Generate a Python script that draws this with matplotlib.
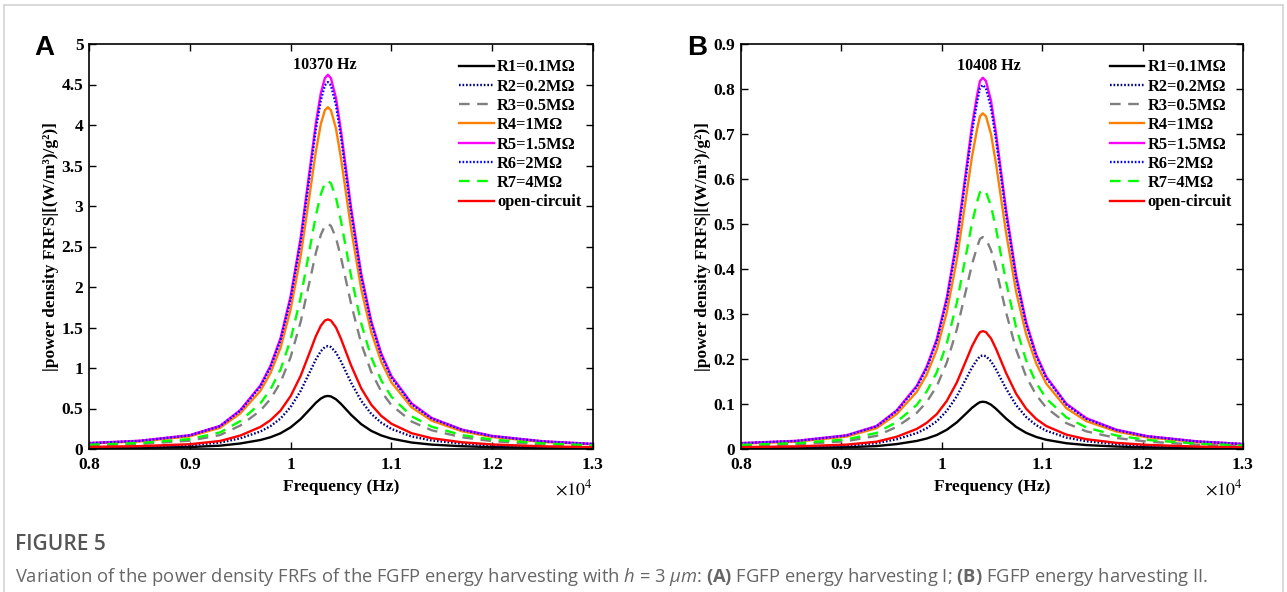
import matplotlib
matplotlib.use("Agg")
import matplotlib.pyplot as plt
from matplotlib.ticker import FuncFormatter, MultipleLocator
from matplotlib.lines import Line2D

# frequency samples (Hz)
freq_a = [8000, 8500, 9000, 9300, 9500, 9700, 9800, 9900, 10000, 10100, 10200, 10250, 10300, 10340, 10370,
          10400, 10450, 10500, 10600, 10700, 10800, 10900, 11000, 11200, 11400, 11700, 12000, 12500, 13000]
freq_b = [8000, 8550, 9050, 9350, 9550, 9750, 9850, 9950, 10050, 10150, 10250, 10300, 10350, 10380, 10408,
          10440, 10490, 10540, 10640, 10740, 10840, 10940, 11040, 11240, 11440, 11740, 12040, 12540, 13000]

# panel A, power density [(W/m^3)/g^2]
a_r1 = [0.010, 0.014, 0.024, 0.041, 0.068, 0.111, 0.145, 0.194, 0.267, 0.370, 0.502, 0.570, 0.623, 0.649, 0.655,
        0.649, 0.614, 0.557, 0.422, 0.307, 0.224, 0.167, 0.128, 0.080, 0.054, 0.034, 0.023, 0.014, 0.009]
a_r2 = [0.020, 0.028, 0.047, 0.079, 0.132, 0.216, 0.282, 0.376, 0.518, 0.718, 0.974, 1.105, 1.208, 1.259, 1.270,
        1.259, 1.191, 1.080, 0.819, 0.596, 0.434, 0.324, 0.248, 0.155, 0.105, 0.066, 0.044, 0.026, 0.017]
a_r3 = [0.044, 0.061, 0.103, 0.172, 0.289, 0.473, 0.617, 0.823, 1.134, 1.571, 2.132, 2.419, 2.644, 2.755, 2.780,
        2.755, 2.608, 2.363, 1.793, 1.304, 0.951, 0.709, 0.542, 0.339, 0.231, 0.145, 0.097, 0.058, 0.038]
a_r4 = [0.068, 0.093, 0.156, 0.262, 0.439, 0.717, 0.937, 1.249, 1.722, 2.384, 3.237, 3.671, 4.013, 4.182, 4.220,
        4.182, 3.958, 3.587, 2.722, 1.979, 1.443, 1.076, 0.823, 0.515, 0.350, 0.219, 0.148, 0.087, 0.058]
a_r5 = [0.074, 0.102, 0.171, 0.286, 0.480, 0.785, 1.026, 1.368, 1.885, 2.610, 3.544, 4.019, 4.394, 4.578, 4.620,
        4.578, 4.334, 3.927, 2.980, 2.167, 1.580, 1.178, 0.901, 0.564, 0.383, 0.240, 0.162, 0.096, 0.063]
a_r6 = [0.072, 0.100, 0.168, 0.281, 0.471, 0.770, 1.006, 1.341, 1.848, 2.559, 3.474, 3.941, 4.308, 4.489, 4.530,
        4.489, 4.249, 3.851, 2.922, 2.125, 1.549, 1.155, 0.883, 0.553, 0.376, 0.236, 0.159, 0.094, 0.062]
a_r7 = [0.053, 0.073, 0.122, 0.205, 0.344, 0.563, 0.735, 0.980, 1.350, 1.870, 2.539, 2.880, 3.148, 3.280, 3.310,
        3.280, 3.105, 2.814, 2.135, 1.552, 1.132, 0.844, 0.645, 0.404, 0.275, 0.172, 0.116, 0.069, 0.045]
a_oc = [0.026, 0.035, 0.059, 0.099, 0.166, 0.272, 0.355, 0.474, 0.653, 0.904, 1.227, 1.392, 1.522, 1.586, 1.600,
        1.586, 1.501, 1.360, 1.032, 0.750, 0.547, 0.408, 0.312, 0.195, 0.133, 0.083, 0.056, 0.033, 0.022]

# panel B
b_r1 = [0.0017, 0.0023, 0.0039, 0.0065, 0.0109, 0.0179, 0.0233, 0.0311, 0.0428, 0.0593, 0.0805, 0.0914, 0.0999, 0.1041, 0.105,
        0.1041, 0.0985, 0.0893, 0.0677, 0.0492, 0.0359, 0.0268, 0.0205, 0.0128, 0.0087, 0.0055, 0.0037, 0.0022, 0.0014]
b_r2 = [0.0033, 0.0046, 0.0077, 0.0129, 0.0216, 0.0354, 0.0462, 0.0616, 0.0849, 0.1175, 0.1595, 0.1810, 0.1978, 0.2061, 0.208,
        0.2061, 0.1951, 0.1768, 0.1342, 0.0976, 0.0711, 0.0530, 0.0406, 0.0254, 0.0173, 0.0108, 0.0073, 0.0043, 0.0028]
b_r3 = [0.0075, 0.0104, 0.0174, 0.0292, 0.0490, 0.0801, 0.1046, 0.1394, 0.1922, 0.2661, 0.3613, 0.4098, 0.4479, 0.4668, 0.471,
        0.4668, 0.4418, 0.4004, 0.3038, 0.2209, 0.1611, 0.1201, 0.0918, 0.0575, 0.0391, 0.0245, 0.0165, 0.0097, 0.0065]
b_r4 = [0.0119, 0.0164, 0.0276, 0.0463, 0.0776, 0.1268, 0.1656, 0.2208, 0.3044, 0.4215, 0.5722, 0.6490, 0.7094, 0.7393, 0.746,
        0.7393, 0.6997, 0.6341, 0.4812, 0.3499, 0.2551, 0.1902, 0.1455, 0.0910, 0.0619, 0.0388, 0.0261, 0.0154, 0.0102]
b_r5 = [0.0132, 0.0182, 0.0305, 0.0512, 0.0858, 0.1403, 0.1832, 0.2442, 0.3366, 0.4661, 0.6328, 0.7178, 0.7846, 0.8176, 0.825,
        0.8176, 0.7739, 0.7013, 0.5321, 0.3869, 0.2822, 0.2104, 0.1609, 0.1007, 0.0685, 0.0429, 0.0289, 0.0171, 0.0113]
b_r6 = [0.0129, 0.0178, 0.0299, 0.0502, 0.0841, 0.1375, 0.1796, 0.2395, 0.3301, 0.4571, 0.6205, 0.7038, 0.7694, 0.8017, 0.809,
        0.8017, 0.7588, 0.6877, 0.5218, 0.3794, 0.2767, 0.2063, 0.1578, 0.0987, 0.0671, 0.0421, 0.0283, 0.0167, 0.0111]
b_r7 = [0.0092, 0.0127, 0.0213, 0.0357, 0.0599, 0.0979, 0.1279, 0.1705, 0.2350, 0.3254, 0.4418, 0.5011, 0.5478, 0.5708, 0.576,
        0.5708, 0.5403, 0.4896, 0.3715, 0.2701, 0.1970, 0.1469, 0.1123, 0.0703, 0.0478, 0.0300, 0.0202, 0.0119, 0.0079]
b_oc = [0.0042, 0.0058, 0.0097, 0.0162, 0.0272, 0.0445, 0.0582, 0.0776, 0.1069, 0.1480, 0.2010, 0.2279, 0.2492, 0.2596, 0.262,
        0.2596, 0.2458, 0.2227, 0.1690, 0.1229, 0.0896, 0.0668, 0.0511, 0.0320, 0.0217, 0.0136, 0.0092, 0.0054, 0.0036]

labels = ["R1=0.1M\u03a9", "R2=0.2M\u03a9", "R3=0.5M\u03a9", "R4=1M\u03a9",
          "R5=1.5M\u03a9", "R6=2M\u03a9", "R7=4M\u03a9", "open-circuit"]
colors = ["black", "#00007f", "#808080", "#ff8000", "#ff00ff", "#0000ff", "#00ff00", "#ff0000"]
dotted = (0, (0.7, 0.8))
dashed = (0, (4.5, 3.2))
styles = ["-", dotted, dashed, "-", "-", dotted, dashed, "-"]

serif = "Liberation Serif"


def draw_panel(ax, freq, series, ymax, ystep, peak_txt, peak_xy, letter):
    for y, lab, c, ls in zip(series, labels, colors, styles):
        ax.plot(freq, y, color=c, linestyle=ls, linewidth=1.7, label=lab)
    ax.set_xlim(8000, 13000)
    ax.set_ylim(0, ymax)
    ax.xaxis.set_major_locator(MultipleLocator(1000))
    ax.yaxis.set_major_locator(MultipleLocator(ystep))
    ax.xaxis.set_major_formatter(FuncFormatter(lambda v, p: "%g" % round(v / 1e4, 2)))
    ax.yaxis.set_major_formatter(FuncFormatter(lambda v, p: "%g" % round(v, 2)))
    ax.tick_params(direction="in", top=True, right=True, length=5, width=1)
    ax.tick_params(axis="x", pad=6)
    ax.tick_params(axis="y", pad=4)
    for lab in ax.get_xticklabels() + ax.get_yticklabels():
        lab.set_fontfamily(serif)
        lab.set_fontweight("bold")
        lab.set_fontsize(12.5)
    for sp in ax.spines.values():
        sp.set_linewidth(1.2)
    ax.set_xlabel("Frequency (Hz)", fontfamily=serif, fontweight="bold", fontsize=12.5, labelpad=4)
    ax.set_ylabel("|power density FRFS|[(W/m\u00b3)/g\u00b2)]", fontfamily=serif,
                  fontweight="bold", fontsize=12.5, labelpad=2)
    ax.text(peak_xy[0], peak_xy[1], peak_txt, ha="center", va="center",
            fontfamily=serif, fontweight="bold", fontsize=11.5)
    ax.text(1.0, -0.1, r"$\times10^{4}$", transform=ax.transAxes, ha="right", va="center",
            fontsize=13, math_fontfamily="stix")
    ax.text(-0.068, 0.99, letter, transform=ax.transAxes, ha="right", va="center",
            fontfamily="Liberation Sans", fontweight="bold", fontsize=20)
    ax.legend(loc="upper left", bbox_to_anchor=(0.735, 0.962), frameon=False,
              prop={"family": serif, "weight": "bold", "size": 11.8},
              handlelength=2.1, handletextpad=0.2, labelspacing=0.2,
              borderpad=0, borderaxespad=0)


fig = plt.figure(figsize=(12.87, 5.92), dpi=100)
ax1 = fig.add_axes([89 / 1287, 1 - 449 / 592, 504 / 1287, 405 / 592])
ax2 = fig.add_axes([741 / 1287, 1 - 449 / 592, 502 / 1287, 405 / 592])

draw_panel(ax1, freq_a, [a_r1, a_r2, a_r3, a_r4, a_r5, a_r6, a_r7, a_oc], 5, 0.5,
           "10370 Hz", (10340, 4.74), "A")
draw_panel(ax2, freq_b, [b_r1, b_r2, b_r3, b_r4, b_r5, b_r6, b_r7, b_oc], 0.9, 0.1,
           "10408 Hz", (10470, 0.85), "B")

# page frame
fc = "#d4d4d4"
fig.add_artist(Line2D([4 / 1287, 1283 / 1287], [1 - 5 / 592, 1 - 5 / 592], transform=fig.transFigure, color=fc, lw=1.2))
fig.add_artist(Line2D([4 / 1287, 4 / 1287], [0, 1 - 5 / 592], transform=fig.transFigure, color=fc, lw=1.2))
fig.add_artist(Line2D([1283 / 1287, 1283 / 1287], [0, 1 - 5 / 592], transform=fig.transFigure, color=fc, lw=1.2))

# caption
plt.rcParams["mathtext.fontset"] = "custom"
plt.rcParams["mathtext.rm"] = "Open Sans"
plt.rcParams["mathtext.it"] = "Open Sans:italic"
plt.rcParams["mathtext.bf"] = "Open Sans:bold"
fig.text(15 / 1287, 1 - 545 / 592, "FIGURE 5", fontfamily="Open Sans", fontweight="semibold",
         fontsize=15, color="#555555", va="center")
fig.text(15 / 1287, 1 - 577 / 592,
         r"Variation of the power density FRFs of the FGFP energy harvesting with $h$ = 3 $\mu m$: "
         r"$\mathbf{(A)}$ FGFP energy harvesting I; $\mathbf{(B)}$ FGFP energy harvesting II.",
         fontfamily="Open Sans", fontsize=13.2, color="#666666", va="center", math_fontfamily="custom")

fig.savefig("out.png", dpi=100)
